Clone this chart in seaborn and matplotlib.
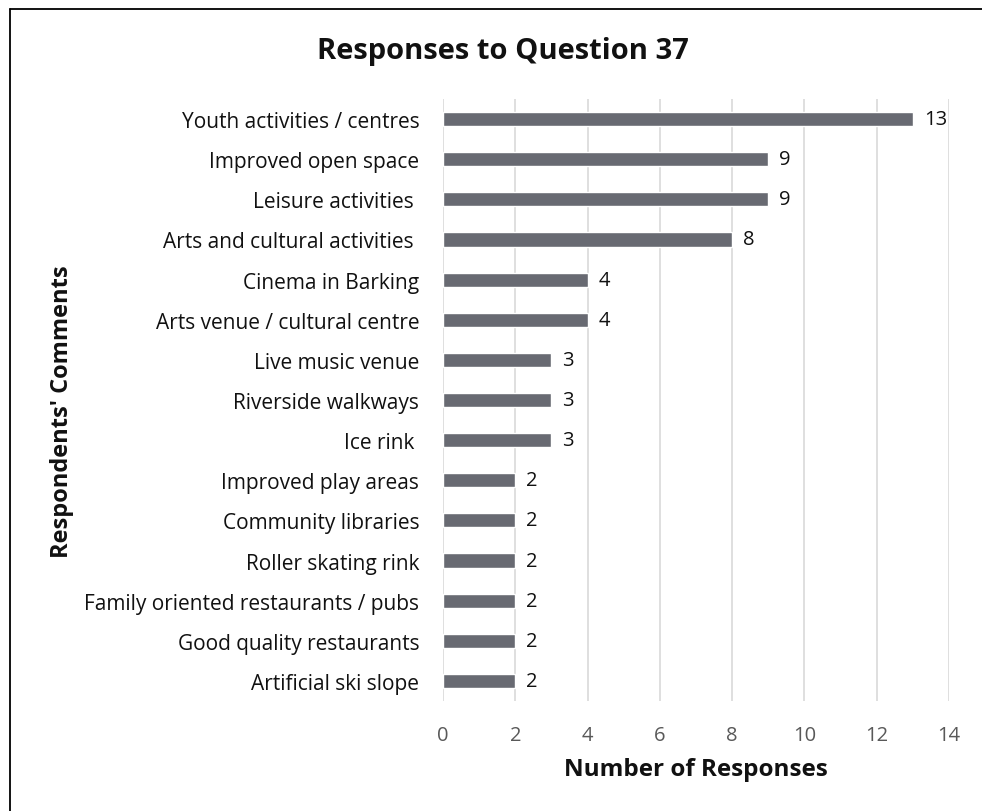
import matplotlib
matplotlib.use("Agg")
import matplotlib.pyplot as plt
from matplotlib.lines import Line2D
import seaborn as sns
import pandas as pd

categories = [
    "Youth activities / centres",
    "Improved open space",
    "Leisure activities ",
    "Arts and cultural activities ",
    "Cinema in Barking",
    "Arts venue / cultural centre",
    "Live music venue",
    "Riverside walkways",
    "Ice rink ",
    "Improved play areas",
    "Community libraries",
    "Roller skating rink",
    "Family oriented restaurants / pubs",
    "Good quality restaurants",
    "Artificial ski slope",
]
responses = [13, 9, 9, 8, 4, 4, 3, 3, 3, 2, 2, 2, 2, 2, 2]
x_ticks = [0, 2, 4, 6, 8, 10, 12, 14]

df = pd.DataFrame({"comment": categories, "count": responses})

sns.set_theme(style="white")
plt.rcParams["font.family"] = ["Open Sans", "DejaVu Sans"]

fig = plt.figure(figsize=(9.82, 8.12), dpi=100)
ax = fig.add_axes([0.4511, 0.1355, 0.5153, 0.7413])

sns.barplot(data=df, x="count", y="comment", order=categories,
            color="#686a72", saturation=1, width=0.35, ax=ax, zorder=3)

ax.set_xlim(0, 14)
ax.set_xticks(x_ticks)
ax.set_xticklabels([str(t) for t in x_ticks])
ax.grid(axis="x", color="#d9d9d9", linewidth=1.2, zorder=0)
ax.grid(axis="y", visible=False)
for s in ax.spines.values():
    s.set_visible(False)

ax.tick_params(axis="x", length=0, pad=17, labelsize=14.5, labelcolor="#595959")
ax.tick_params(axis="y", length=0, pad=17, labelsize=15, labelcolor="#111111")

for i, v in enumerate(responses):
    ax.annotate(str(v), xy=(v, i), xytext=(8, 0), textcoords="offset points",
                va="center", ha="left", fontsize=14.5, color="#111111")

ax.set_xlabel("Number of Responses", fontsize=17.5, fontweight="bold",
              color="#111111", labelpad=9)
ax.set_ylabel("")
fig.text(0.063, 0.493, "Respondents' Comments", rotation=90, ha="center",
         va="center", fontsize=17, fontweight="bold", color="#111111")
fig.text(0.512, 0.937, "Responses to Question 37", ha="center", va="center",
         fontsize=21, fontweight="bold", color="#111111")

# frame lines on the top and left of the chart area
fig.add_artist(Line2D([0.0102, 1.0], [0.9877, 0.9877], color="black",
                      linewidth=1.3, transform=fig.transFigure))
fig.add_artist(Line2D([0.0102, 0.0102], [0.0, 0.9877], color="black",
                      linewidth=1.3, transform=fig.transFigure))

fig.savefig("out.png", dpi=100)
